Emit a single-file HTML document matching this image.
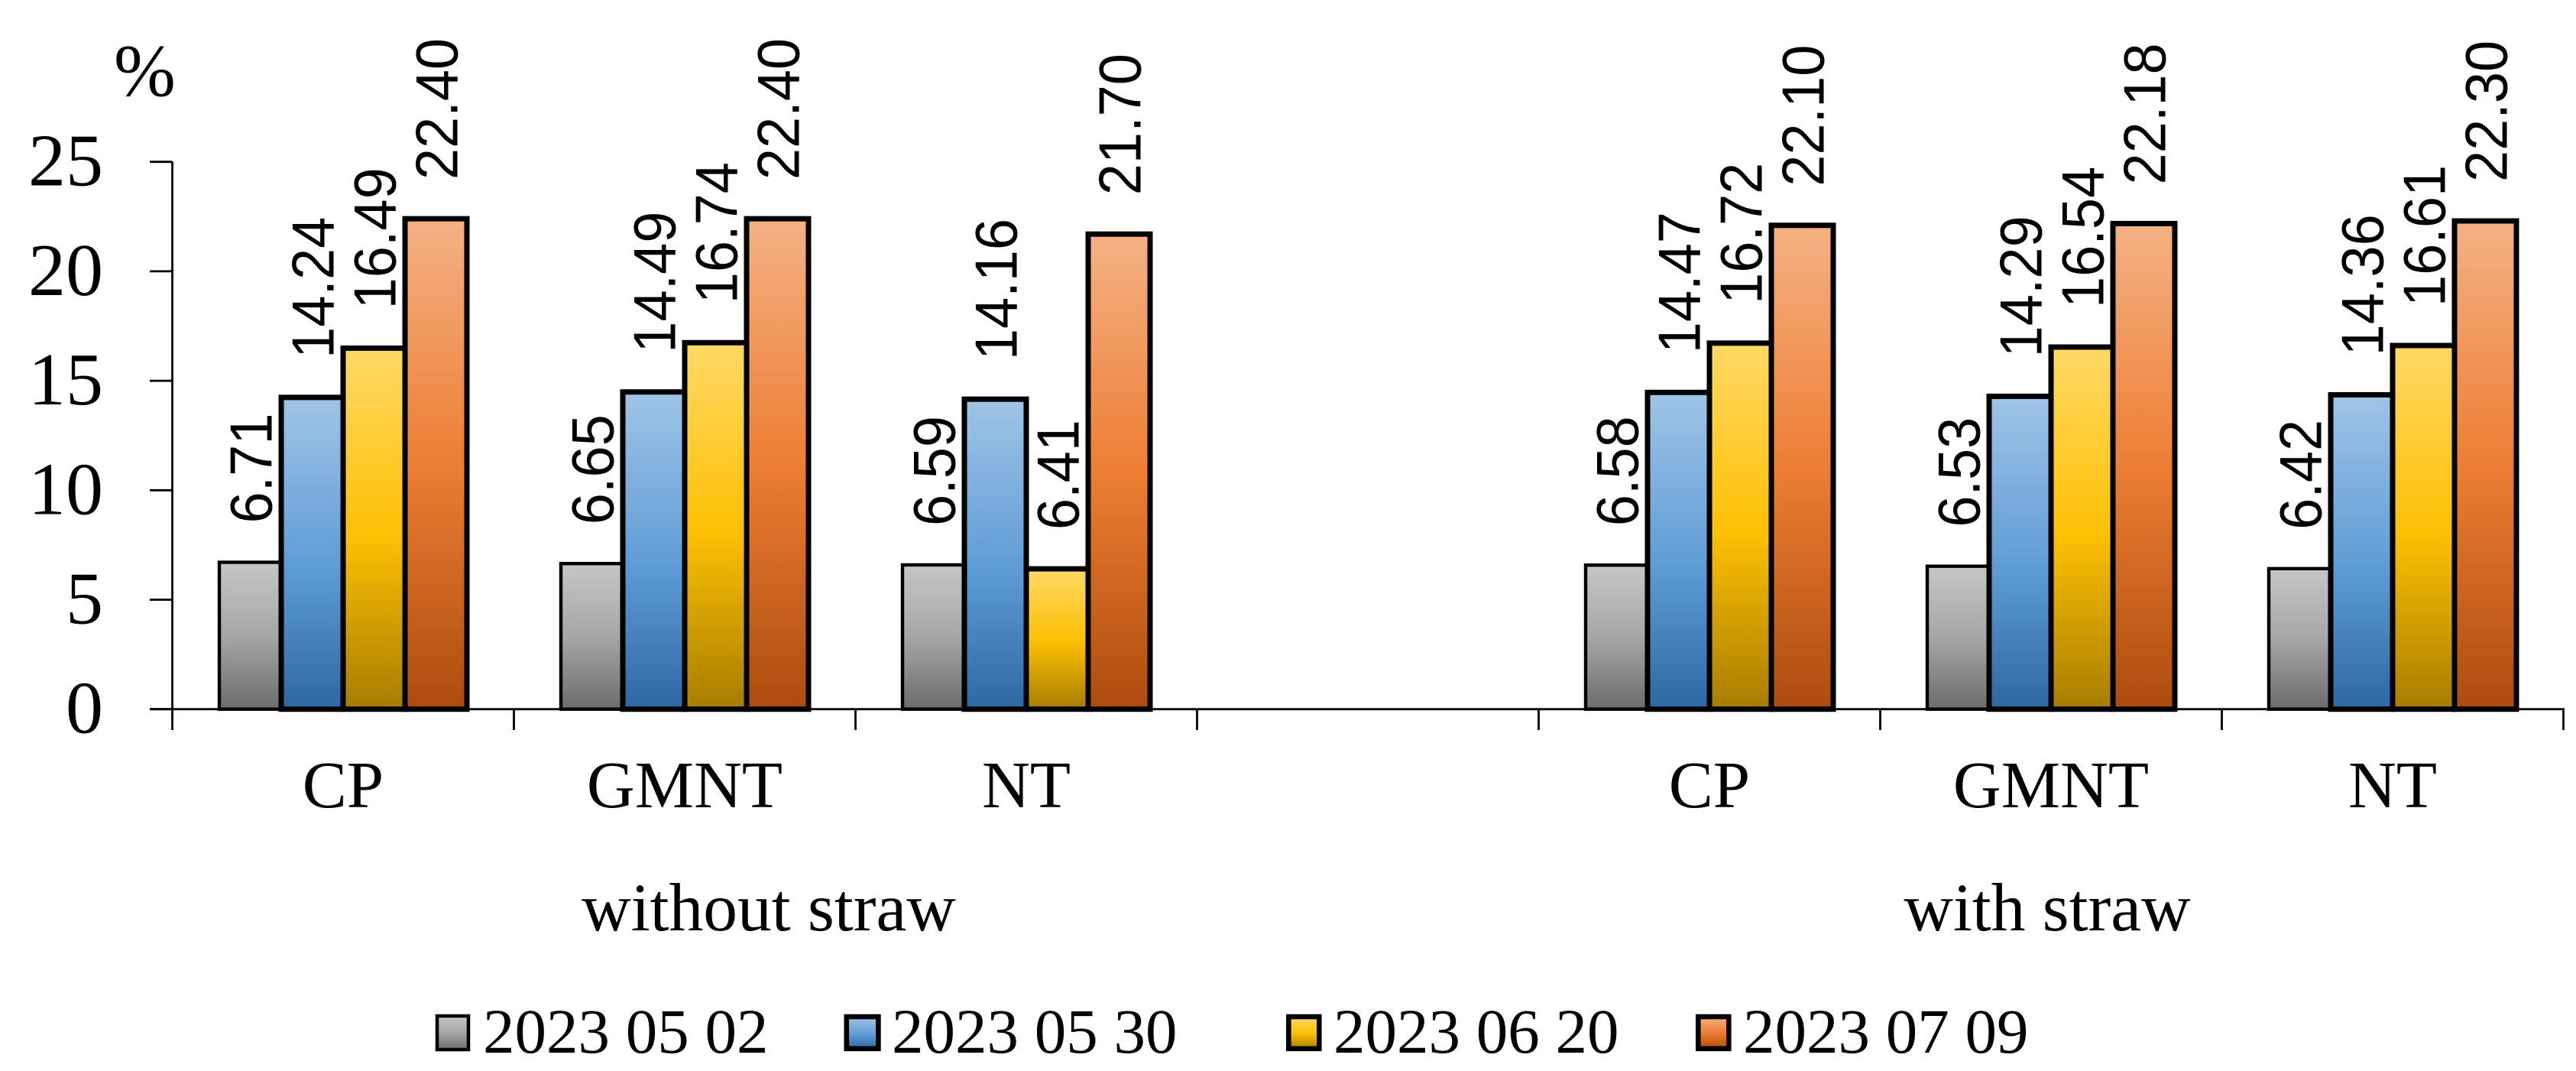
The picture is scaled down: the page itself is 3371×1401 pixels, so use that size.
<!DOCTYPE html>
<html lang="en">
<head>
<meta charset="utf-8">
<title>Soil moisture by tillage and straw treatment</title>
<style>
html,body{margin:0;padding:0;background:#fff;}
svg{display:block;}
.serif{font-family:"Liberation Serif",serif;fill:#000;}
.sans{font-family:"Liberation Sans",sans-serif;fill:#000;}
</style>
</head>
<body>
<svg id="chart" xmlns="http://www.w3.org/2000/svg" width="3371" height="1401" viewBox="0 0 3371 1401">
  <defs>
    <linearGradient id="grad-0" x1="0" y1="0" x2="0" y2="1">
      <stop offset="0" stop-color="#c6c6c6"/><stop offset="0.5" stop-color="#a6a6a6"/><stop offset="1" stop-color="#6c6c6c"/>
    </linearGradient>
    <linearGradient id="grad-1" x1="0" y1="0" x2="0" y2="1">
      <stop offset="0" stop-color="#9fc4e7"/><stop offset="0.55" stop-color="#5e9cd5"/><stop offset="1" stop-color="#2c68a3"/>
    </linearGradient>
    <linearGradient id="grad-2" x1="0" y1="0" x2="0" y2="1">
      <stop offset="0" stop-color="#ffd965"/><stop offset="0.52" stop-color="#fdc003"/><stop offset="1" stop-color="#a67d00"/>
    </linearGradient>
    <linearGradient id="grad-3" x1="0" y1="0" x2="0" y2="1">
      <stop offset="0" stop-color="#f4b184"/><stop offset="0.5" stop-color="#ed7e33"/><stop offset="1" stop-color="#ac4c0d"/>
    </linearGradient>
  </defs>

  <text class="serif" x="149" y="125" font-size="97">%</text>
  <g id="plot"></g>

  <text class="serif" x="1006" y="1217" font-size="89.5" text-anchor="middle">without straw</text>
  <text class="serif" x="2679" y="1217" font-size="89.5" text-anchor="middle">with straw</text>

  <g>
    <g>
      <rect x="572" y="1329" width="41" height="44" fill="url(#grad-0)" stroke="#000" stroke-width="4.5"/>
      <text class="serif" x="632" y="1377" font-size="83">2023 05 02</text>
    </g>
    <g>
      <rect x="1107.8" y="1330" width="41.6" height="41.8" fill="url(#grad-1)" stroke="#000" stroke-width="6.6"/>
      <text class="serif" x="1167" y="1377" font-size="83">2023 05 30</text>
    </g>
    <g>
      <rect x="1686.3" y="1330" width="40" height="41.8" fill="url(#grad-2)" stroke="#000" stroke-width="6.6"/>
      <text class="serif" x="1745" y="1377" font-size="83">2023 06 20</text>
    </g>
    <g>
      <rect x="2222.3" y="1330" width="40" height="41.8" fill="url(#grad-3)" stroke="#000" stroke-width="6.6"/>
      <text class="serif" x="2281" y="1377" font-size="83">2023 07 09</text>
    </g>
  </g>
</svg>
<script>
const categories = ["CP", "GMNT", "NT", "", "CP", "GMNT", "NT"];
const seriesNames = ["2023 05 02", "2023 05 30", "2023 06 20", "2023 07 09"];
const series0502 = [6.71, 6.65, 6.59, null, 6.58, 6.53, 6.42];
const series0530 = [14.24, 14.49, 14.16, null, 14.47, 14.29, 14.36];
const series0620 = [16.49, 16.74, 6.41, null, 16.72, 16.54, 16.61];
const series0709 = [22.40, 22.40, 21.70, null, 22.10, 22.18, 22.30];
const yTicks = [0, 5, 10, 15, 20, 25];

const allSeries = [series0502, series0530, series0620, series0709];
const NS = "http://www.w3.org/2000/svg";
const plot = document.getElementById("plot");

const axisX = 225.5, axisBottom = 927.7, axisTop = 211.7, yMax = 25;
const catWidth = 447, barWidth = 81, groupInset = 61.5;

function yScale(v) { return axisBottom - (v / yMax) * (axisBottom - axisTop); }
function catLeft(i) { return axisX + i * catWidth; }
function barLeft(i, s) { return catLeft(i) + groupInset + s * barWidth; }

function make(tag, attrs, parent) {
  const el = document.createElementNS(NS, tag);
  for (const k in attrs) el.setAttribute(k, attrs[k]);
  parent.appendChild(el);
  return el;
}

// bars (drawn first so the axis baseline runs under their heavy outlines)
allSeries.forEach(function (vals, s) {
  vals.forEach(function (v, i) {
    if (v === null) return;
    const top = yScale(v);
    const bar = make("rect", {
      x: barLeft(i, s), y: top, width: barWidth, height: axisBottom - top,
      fill: "url(#grad-" + s + ")", stroke: "#000", "stroke-width": s === 0 ? 4.4 : 7
    }, plot);
    
    
    bar.setAttribute('data-series', seriesNames[s]);
  });
});

// data value labels
allSeries.forEach(function (vals, s) {
  vals.forEach(function (v, i) {
    if (v === null) return;
    const bx = barLeft(i, s) + barWidth / 2 + 28;
    const by = yScale(v) - 51;
    const label = make("text", {
      class: "sans", "font-size": 74, x: 0, y: 0,
      transform: "translate(" + bx + " " + by + ") rotate(-90) scale(1 1.05)"
    }, plot);
    label.textContent = v.toFixed(2);
    
    
  });
});

// axes
const yAxis = make("line", { x1: axisX, x2: axisX, y1: axisTop, y2: 955, stroke: "#000", "stroke-width": 2.8 }, plot);



const xAxis = make("line", { x1: 196, x2: catLeft(categories.length) + 1.4, y1: axisBottom, y2: axisBottom, stroke: "#000", "stroke-width": 2.8 }, plot);



yTicks.forEach(function (t) {
  const y = yScale(t);
  const tick = make("line", { x1: 196, x2: axisX, y1: y, y2: y, stroke: "#000", "stroke-width": 2.8 }, plot);
  
  
  const lab = make("text", { class: "serif", "font-size": 98, x: 135, y: y + 31, "text-anchor": "end" }, plot);
  lab.textContent = String(t);
  
  
});

for (let i = 1; i <= categories.length; i++) {
  const x = catLeft(i);
  const tick = make("line", { x1: x, x2: x, y1: axisBottom, y2: 955, stroke: "#000", "stroke-width": 2.8 }, plot);
  
  
}

categories.forEach(function (c, i) {
  if (!c) return;
  const lab = make("text", { class: "serif", "font-size": 87, x: catLeft(i) + catWidth / 2, y: 1056, "text-anchor": "middle" }, plot);
  lab.textContent = c;
  
  
});
</script>
</body>
</html>
